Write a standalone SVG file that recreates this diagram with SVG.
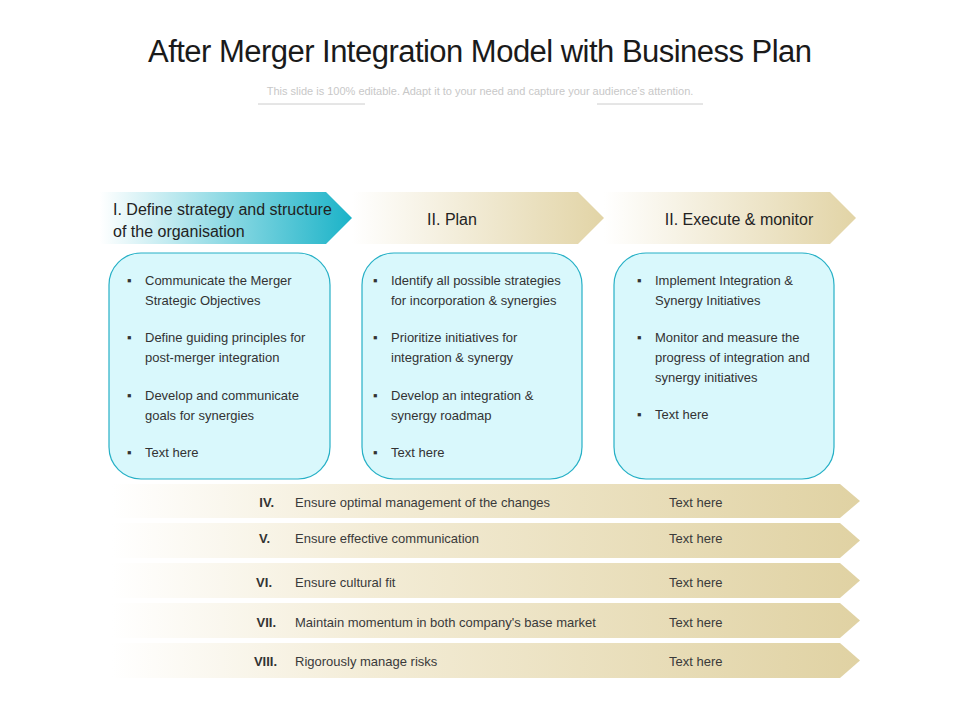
<svg xmlns="http://www.w3.org/2000/svg" width="960" height="720" viewBox="0 0 960 720">
<defs>
<linearGradient id="teal" x1="0" x2="1" y1="0" y2="0"><stop offset="0" stop-color="#fff"/><stop offset="1" stop-color="#1bb3c8"/></linearGradient>
<linearGradient id="tan" x1="0" x2="1" y1="0" y2="0"><stop offset="0" stop-color="#fff"/><stop offset="1" stop-color="#e2d4a6"/></linearGradient>
<linearGradient id="row" x1="0" x2="1" y1="0" y2="0"><stop offset="0" stop-color="#fff"/><stop offset="0.35" stop-color="#f3ecd6"/><stop offset="1" stop-color="#e0d2a3"/></linearGradient>
<style>
text{font-family:"Liberation Sans Narrow","Liberation Sans",Arial,sans-serif;fill:#333}
.h{font-size:16px;fill:#222}
.b{font-size:13px;fill:#3a3a3a}
.box{fill:#d9f8fc;stroke:#26b0c6;stroke-width:1.2}
.r{font-size:13px;fill:#3a3a3a}
.n{font-size:13px;font-weight:bold;fill:#333;text-anchor:end}
</style>
</defs>
<text x="480" y="62" text-anchor="middle" style="font-size:31px;fill:#1a1a1a" textLength="664">After Merger Integration Model with Business Plan</text>
<text x="480" y="95" text-anchor="middle" style="font-size:11px;fill:#c8c8c8">This slide is 100% editable.  Adapt it to your need and capture  your audience’s attention.</text>
<line x1="258" y1="104" x2="365" y2="104" stroke="#ccc"/>
<line x1="597" y1="104" x2="703" y2="104" stroke="#ccc"/>
<g id="step1"><polygon points="100,192 326,192 352,218 326,244 100,244" fill="url(#teal)"/>
<text class="h" x="113" y="215">I. Define strategy and structure</text><text class="h" x="113" y="237">of the organisation</text></g>
<g id="step2"><polygon points="352,192 578,192 604,218 578,244 352,244" fill="url(#tan)"/><text class="h" x="452" y="225" text-anchor="middle">II. Plan</text></g>
<g id="step3"><polygon points="604,192 830,192 856,218 830,244 604,244" fill="url(#tan)"/><text class="h" x="739" y="225" text-anchor="middle">II. Execute &amp; monitor</text></g>
<g id="box1"><rect class="box" x="109" y="253" width="221" height="226" rx="32"/>
<g class="b"><text x="127" y="285">▪</text><text x="145" y="285">Communicate the Merger</text><text x="145" y="305">Strategic Objectives</text>
<text x="127" y="342">▪</text><text x="145" y="342">Define guiding principles for</text><text x="145" y="362">post-merger integration</text>
<text x="127" y="400">▪</text><text x="145" y="400">Develop and communicate</text><text x="145" y="420">goals for synergies</text>
<text x="127" y="457">▪</text><text x="145" y="457">Text here</text></g></g>
<g id="box2"><rect class="box" x="362" y="253" width="220" height="226" rx="32"/>
<g class="b"><text x="373" y="285">▪</text><text x="391" y="285">Identify all possible strategies</text><text x="391" y="305">for incorporation &amp; synergies</text>
<text x="373" y="342">▪</text><text x="391" y="342">Prioritize initiatives for</text><text x="391" y="362">integration &amp; synergy</text>
<text x="373" y="400">▪</text><text x="391" y="400">Develop an integration &amp;</text><text x="391" y="420">synergy roadmap</text>
<text x="373" y="457">▪</text><text x="391" y="457">Text here</text></g></g>
<g id="box3"><rect class="box" x="614" y="253" width="220" height="226" rx="32"/>
<g class="b"><text x="637" y="285">▪</text><text x="655" y="285">Implement Integration &amp;</text><text x="655" y="305">Synergy Initiatives</text>
<text x="637" y="342">▪</text><text x="655" y="342">Monitor and measure the</text><text x="655" y="362">progress of integration and</text><text x="655" y="382">synergy initiatives</text>
<text x="637" y="419">▪</text><text x="655" y="419">Text here</text></g></g>
<g id="row4"><polygon points="112,484 840,484 860,501 840,518 112,518" fill="url(#row)"/><text class="n" x="274" y="507">IV.</text><text class="r" x="295" y="507">Ensure optimal  management of the changes</text><text class="r" x="669" y="507">Text here</text></g>
<g id="row5"><polygon points="112,523 840,523 860,540.5 840,558 112,558" fill="url(#row)"/><text class="n" x="270" y="543">V.</text><text class="r" x="295" y="543">Ensure effective communication</text><text class="r" x="669" y="543">Text here</text></g>
<g id="row6"><polygon points="112,563 840,563 860,580.5 840,598 112,598" fill="url(#row)"/><text class="n" x="272" y="587">VI.</text><text class="r" x="295" y="587">Ensure cultural  fit</text><text class="r" x="669" y="587">Text here</text></g>
<g id="row7"><polygon points="112,603 840,603 860,620.5 840,638 112,638" fill="url(#row)"/><text class="n" x="276" y="627">VII.</text><text class="r" x="295" y="627">Maintain  momentum in both company's  base market</text><text class="r" x="669" y="627">Text here</text></g>
<g id="row8"><polygon points="112,643 840,643 860,660.5 840,678 112,678" fill="url(#row)"/><text class="n" x="277" y="666">VIII.</text><text class="r" x="295" y="666">Rigorously manage risks</text><text class="r" x="669" y="666">Text here</text></g>
<g id="connectors"/>
</svg>
